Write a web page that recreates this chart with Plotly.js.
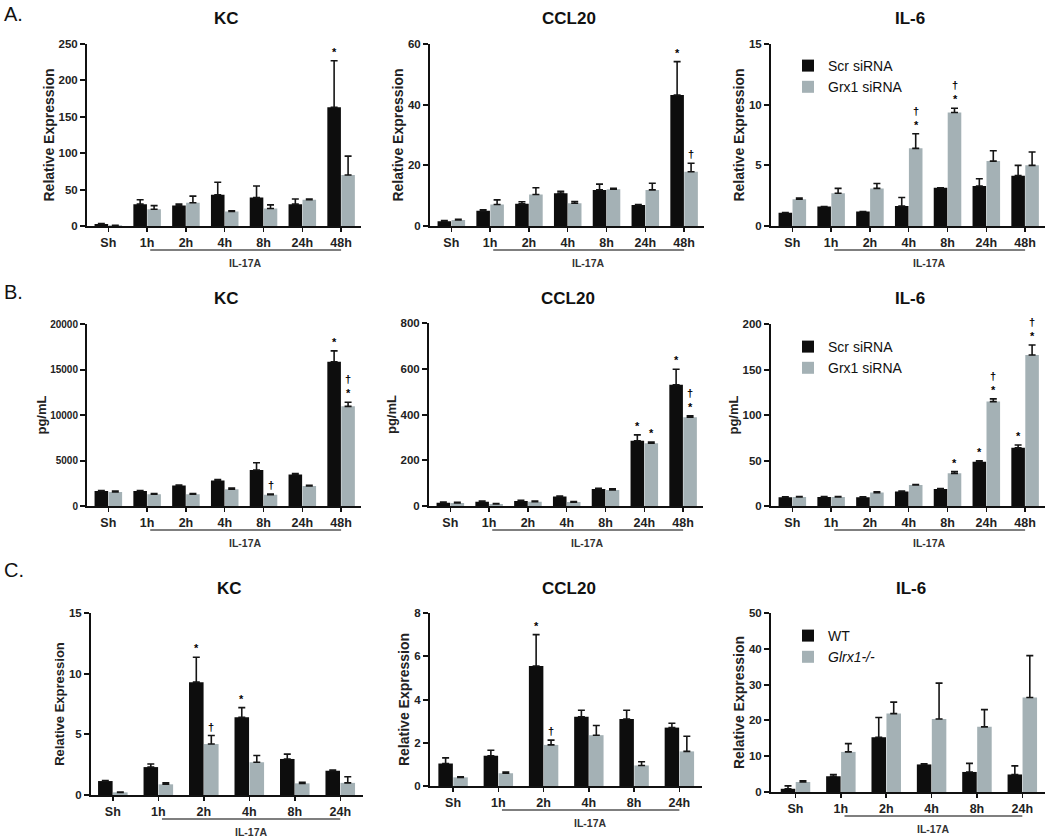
<!DOCTYPE html>
<html>
<head>
<meta charset="utf-8">
<script src="https://cdn.plot.ly/plotly-3.0.1.min.js"></script>
<style>html,body{margin:0;padding:0;background:#fff;}#chart{width:1050px;height:839px;}</style>
</head>
<body>
<div id="chart"></div>
<script>
// ---------- data ----------
const catsAB = ['Sh','1h','2h','4h','8h','24h','48h'];
const catsC  = ['Sh','1h','2h','4h','8h','24h'];

// Row A: mRNA, Relative Expression
const aKC_scr = [2.7, 30, 28, 43, 39, 30, 163];
const aKC_scrErr = [0.5, 6, 2, 17, 16, 7, 64];
const aKC_grx = [1, 23, 32, 20, 24, 36, 70];
const aKC_grxErr = [0, 5, 9, 1, 5, 1, 26];
const aKC_scrMark = ['','','','','','','*'];
const aKC_grxMark = ['','','','','','',''];

const aCCL_scr = [1.6, 5, 7.3, 10.8, 11.9, 6.9, 43.2];
const aCCL_scrErr = [0.2, 0.3, 0.7, 0.6, 1.9, 0.2, 11];
const aCCL_grx = [2, 7.1, 10.4, 7.5, 12.1, 11.9, 17.9];
const aCCL_grxErr = [0.2, 1.5, 2.2, 0.6, 0.3, 2.2, 2.8];
const aCCL_scrMark = ['','','','','','','*'];
const aCCL_grxMark = ['','','','','','','†'];

const aIL6_scr = [1.1, 1.6, 1.2, 1.65, 3.15, 3.3, 4.15];
const aIL6_scrErr = [0, 0, 0, 0.7, 0, 0.6, 0.85];
const aIL6_grx = [2.2, 2.7, 3.1, 6.4, 9.35, 5.35, 5.0];
const aIL6_grxErr = [0.1, 0.4, 0.4, 1.2, 0.35, 0.85, 1.1];
const aIL6_scrMark = ['','','','','','',''];
const aIL6_grxMark = ['','','','†*','†*','',''];

// Row B: protein, pg/mL
const bKC_scr = [1650, 1650, 2250, 2800, 3950, 3450, 15850];
const bKC_scrErr = [50, 50, 60, 120, 800, 120, 1200];
const bKC_grx = [1550, 1300, 1300, 1850, 1250, 2200, 10950];
const bKC_grxErr = [100, 80, 80, 120, 60, 70, 450];
const bKC_scrMark = ['','','','','','','*'];
const bKC_grxMark = ['','','','','†','','†*'];

const bCCL_scr = [14, 19, 22, 41, 74, 285, 530];
const bCCL_scrErr = [3, 3, 3, 3, 3, 26, 68];
const bCCL_grx = [13, 9, 19, 17, 70, 274, 388];
const bCCL_grxErr = [3, 2, 3, 2, 5, 6, 6];
const bCCL_scrMark = ['','','','','','*','*'];
const bCCL_grxMark = ['','','','','','*','†*'];

const bIL6_scr = [9.5, 9.9, 9.5, 15.8, 18.7, 48.7, 64];
const bIL6_scrErr = [0.5, 0.5, 0.5, 0.5, 0.5, 1, 3];
const bIL6_grx = [9.9, 9.9, 14.7, 23, 35.9, 114.7, 166];
const bIL6_grxErr = [0.5, 0.5, 1, 0.7, 2, 3, 11];
const bIL6_scrMark = ['','','','','','*','*'];
const bIL6_grxMark = ['','','','','*','†*','†*'];

// Row C: WT vs Glrx1-/-, Relative Expression
const cKC_wt = [1.15, 2.3, 9.3, 6.4, 2.97, 2.0];
const cKC_wtErr = [0.05, 0.25, 2.05, 0.8, 0.4, 0.05];
const cKC_ko = [0.22, 0.88, 4.2, 2.7, 0.96, 1.0];
const cKC_koErr = [0.03, 0.12, 0.7, 0.55, 0.08, 0.5];
const cKC_wtMark = ['','','*','*','',''];
const cKC_koMark = ['','','†','','',''];

const cCCL_wt = [1.04, 1.4, 5.55, 3.2, 3.1, 2.7];
const cCCL_wtErr = [0.26, 0.25, 1.45, 0.3, 0.4, 0.2];
const cCCL_ko = [0.4, 0.59, 1.9, 2.35, 0.95, 1.6];
const cCCL_koErr = [0.03, 0.06, 0.22, 0.45, 0.17, 0.7];
const cCCL_wtMark = ['','','*','','',''];
const cCCL_koMark = ['','','†','','',''];

const cIL6_wt = [0.9, 4.4, 15.3, 7.7, 5.6, 4.9];
const cIL6_wtErr = [0.8, 0.5, 5.5, 0.2, 2.4, 2.4];
const cIL6_ko = [2.8, 11.2, 21.9, 20.4, 18.2, 26.4];
const cIL6_koErr = [0.3, 2.3, 3.2, 10, 4.8, 11.7];
const cIL6_wtMark = ['','','','','',''];
const cIL6_koMark = ['','','','','',''];

const namesAB = ['Scr siRNA', 'Grx1 siRNA'];
const namesC = ['WT', '<i>Glrx1-/-</i>'];

// ---------- styling / layout ----------
const W = 1050, H = 839;
const BLACK = '#0d0d0d', GRAY = '#a4b1b5', ERR = '#151515';
const FONT = 'Arial, "Liberation Sans", sans-serif';

const panels = [
  {title:'KC', cats:catsAB, s1:aKC_scr, e1:aKC_scrErr, s2:aKC_grx, e2:aKC_grxErr, m1:aKC_scrMark, m2:aKC_grxMark, names:namesAB,
   px:[87,360.5], py:[44,226], yr:[0,250], dt:50, ytitle:'Relative Expression', yfs:14, tfs:11.5, xr:[-0.55,6.5], bw:0.35, leg:null},
  {title:'CCL20', cats:catsAB, s1:aCCL_scr, e1:aCCL_scrErr, s2:aCCL_grx, e2:aCCL_grxErr, m1:aCCL_scrMark, m2:aCCL_grxMark, names:namesAB,
   px:[430,703.5], py:[44,226], yr:[0,60], dt:20, ytitle:'Relative Expression', yfs:14, tfs:11.5, xr:[-0.55,6.5], bw:0.35, leg:null},
  {title:'IL-6', cats:catsAB, s1:aIL6_scr, e1:aIL6_scrErr, s2:aIL6_grx, e2:aIL6_grxErr, m1:aIL6_scrMark, m2:aIL6_grxMark, names:namesAB,
   px:[771,1044.5], py:[44,226], yr:[0,15], dt:5, ytitle:'Relative Expression', yfs:14, tfs:11.5, xr:[-0.55,6.5], bw:0.35, leg:'legend'},
  {title:'KC', cats:catsAB, s1:bKC_scr, e1:bKC_scrErr, s2:bKC_grx, e2:bKC_grxErr, m1:bKC_scrMark, m2:bKC_grxMark, names:namesAB,
   px:[87,360.5], py:[324,506], yr:[0,20000], dt:5000, ytitle:'pg/mL', yfs:13, tfs:10, xr:[-0.55,6.5], bw:0.35, leg:null},
  {title:'CCL20', cats:catsAB, s1:bCCL_scr, e1:bCCL_scrErr, s2:bCCL_grx, e2:bCCL_grxErr, m1:bCCL_scrMark, m2:bCCL_grxMark, names:namesAB,
   px:[429,702.5], py:[323,506], yr:[0,800], dt:200, ytitle:'pg/mL', yfs:13, tfs:11.5, xr:[-0.55,6.5], bw:0.35, leg:null},
  {title:'IL-6', cats:catsAB, s1:bIL6_scr, e1:bIL6_scrErr, s2:bIL6_grx, e2:bIL6_grxErr, m1:bIL6_scrMark, m2:bIL6_grxMark, names:namesAB,
   px:[771,1044.5], py:[324,506], yr:[0,200], dt:50, ytitle:'pg/mL', yfs:13, tfs:11.5, xr:[-0.55,6.5], bw:0.35, leg:'legend2'},
  {title:'KC', cats:catsC, s1:cKC_wt, e1:cKC_wtErr, s2:cKC_ko, e2:cKC_koErr, m1:cKC_wtMark, m2:cKC_koMark, names:namesC,
   px:[91,363], py:[613,795], yr:[0,15], dt:5, ytitle:'Relative Expression', yfs:13, tfs:11.5, xr:[-0.48,5.5], bw:0.32, leg:null},
  {title:'CCL20', cats:catsC, s1:cCCL_wt, e1:cCCL_wtErr, s2:cCCL_ko, e2:cCCL_koErr, m1:cCCL_wtMark, m2:cCCL_koMark, names:namesC,
   px:[430,702], py:[613,786], yr:[0,8], dt:2, ytitle:'Relative Expression', yfs:14, tfs:11.5, xr:[-0.51,5.5], bw:0.32, leg:null},
  {title:'IL-6', cats:catsC, s1:cIL6_wt, e1:cIL6_wtErr, s2:cIL6_ko, e2:cIL6_koErr, m1:cIL6_wtMark, m2:cIL6_koMark, names:namesC,
   px:[771,1045], py:[613,792], yr:[0,50], dt:10, ytitle:'Relative Expression', yfs:14, tfs:11.5, xr:[-0.54,5.5], bw:0.32, leg:'legend3'}
];

const traces = [];
const annotations = [];
const shapes = [];
const layout = {
  width: W, height: H,
  margin: {l:0, r:0, t:0, b:0},
  paper_bgcolor: '#fff', plot_bgcolor: '#fff',
  barmode: 'overlay',
  font: {family: FONT, color: '#111'},
  showlegend: true
};

panels.forEach((p, i) => {
  const n = i + 1;
  const xa = 'x' + (n === 1 ? '' : n), ya = 'y' + (n === 1 ? '' : n);
  const xk = 'xaxis' + (n === 1 ? '' : n), yk = 'yaxis' + (n === 1 ? '' : n);
  const bw = p.bw;
  const off1 = -bw - 0.005, off2 = 0.005;
  const zeros = p.s1.map(() => 0);
  const mk = (vals, errs, color, name, off, showleg) => ({
    type: 'bar', x: p.cats, y: vals, xaxis: xa, yaxis: ya,
    name: name, marker: {color: color, line: {width: 0}},
    width: bw, offset: off,
    error_y: {type: 'data', array: errs, arrayminus: zeros, symmetric: false, color: ERR, thickness: 1.6, width: 3.5},
    showlegend: showleg, legend: p.leg || 'legend', hoverinfo: 'skip'
  });
  traces.push(mk(p.s1, p.e1, BLACK, p.names[0], off1, !!p.leg));
  traces.push(mk(p.s2, p.e2, GRAY, p.names[1], off2, !!p.leg));

  layout[xk] = {
    domain: [p.px[0] / W, p.px[1] / W], anchor: ya,
    type: 'category', range: p.xr, fixedrange: true,
    showline: true, linecolor: '#111', linewidth: 2,
    ticks: 'outside', ticklen: 4, tickwidth: 1.5, tickcolor: '#111',
    tickfont: {family: FONT, size: 12.5, weight: 'bold', color: '#222'},
    showgrid: false, zeroline: false
  };
  layout[yk] = {
    domain: [1 - p.py[1] / H, 1 - p.py[0] / H], anchor: xa,
    range: p.yr, dtick: p.dt, tick0: 0, tickformat: 'd', fixedrange: true,
    showline: true, linecolor: '#111', linewidth: 2,
    ticks: 'outside', ticklen: 5, tickwidth: 2, tickcolor: '#111',
    tickfont: {family: FONT, size: p.tfs, weight: 'bold', color: '#222'},
    showgrid: false, zeroline: false,
    title: {text: p.ytitle, font: {family: FONT, size: p.yfs, weight: 'bold', color: '#222'}, standoff: 1}
  };

  // panel title
  annotations.push({
    text: p.title, xref: xa + ' domain', yref: ya + ' domain', x: 0.51, y: 1 + 25 / (p.py[1] - p.py[0]),
    xanchor: 'center', yanchor: 'middle', showarrow: false,
    font: {family: FONT, size: 17, weight: 'bold', color: '#111'}
  });

  // IL-17A bracket line and label
  const last = p.cats.length - 1;
  const h = p.py[1] - p.py[0];
  shapes.push({
    type: 'line', xref: xa, yref: ya + ' domain', x0: 1.08, x1: last, y0: -24 / h, y1: -24 / h,
    line: {color: '#555', width: 1.5}
  });
  annotations.push({
    text: 'IL-17A', xref: xa, yref: ya + ' domain', x: (1.08 + last) / 2, y: -37 / h,
    xanchor: 'center', yanchor: 'middle', showarrow: false,
    font: {family: FONT, size: 10.5, weight: 'bold', color: '#333'}
  });

  // significance marks
  const addMarks = (marks, vals, errs, dx) => {
    marks.forEach((m, j) => {
      if (!m) return;
      const txt = m.split('').join('<br>');
      annotations.push({
        text: txt, xref: xa, yref: ya, x: j + dx, y: vals[j] + errs[j],
        xanchor: 'center', yanchor: 'bottom', yshift: 1, showarrow: false,
        font: {family: FONT, size: 11, weight: 'bold', color: '#000'}
      });
    });
  };
  addMarks(p.m1, p.s1, p.e1, off1 + bw / 2);
  addMarks(p.m2, p.s2, p.e2, off2 + bw / 2);
});

// panel letters
[['A.', 14], ['B.', 292], ['C.', 570]].forEach(([t, py]) => {
  annotations.push({text: t, xref: 'paper', yref: 'paper', x: 2 / W, y: 1 - py / H,
    xanchor: 'left', yanchor: 'middle', showarrow: false,
    font: {family: FONT, size: 20, color: '#111'}});
});

const legendBase = (ytop) => ({
  x: 788 / W, y: 1 - ytop / H, xanchor: 'left', yanchor: 'top',
  bgcolor: 'rgba(0,0,0,0)', borderwidth: 0,
  font: {family: FONT, size: 14, color: '#111'},
  traceorder: 'normal', itemclick: false, itemdoubleclick: false,
  tracegroupgap: 0
});
layout.legend = legendBase(50);
layout.legend2 = legendBase(331);
layout.legend3 = legendBase(620);
layout.annotations = annotations;
layout.shapes = shapes;

Plotly.newPlot('chart', traces, layout, {staticPlot: true, displayModeBar: false});
</script>
</body>
</html>
